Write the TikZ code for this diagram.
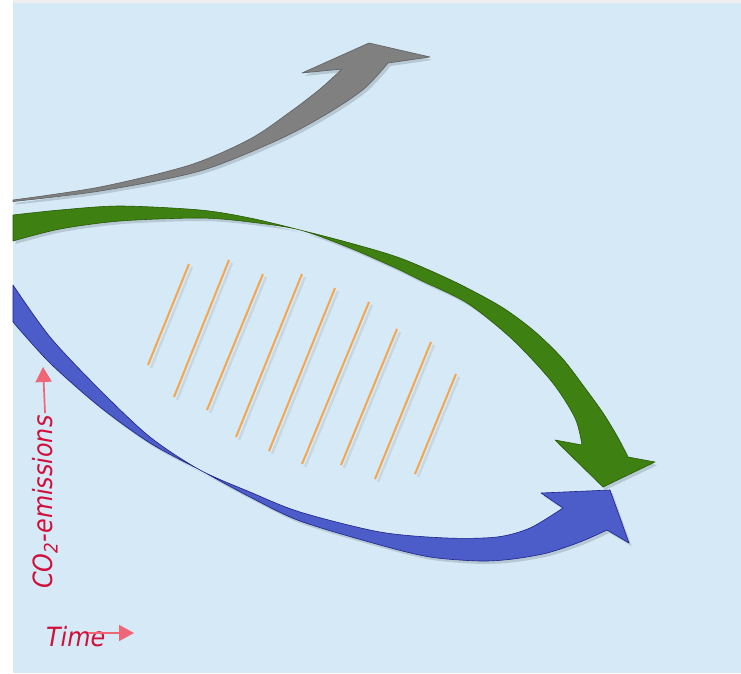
\documentclass[tikz,border=0pt]{standalone}
\usepackage{fontspec}
\setmainfont{DejaVu Sans Condensed}
\usetikzlibrary{shadows,arrows.meta}

\definecolor{panel}{HTML}{D5E9F6}
\definecolor{topstrip}{HTML}{EEEEEE}
\definecolor{grayarrow}{HTML}{808080}
\definecolor{grayedge}{HTML}{5E5E5E}
\definecolor{greenarrow}{HTML}{3E8012}
\definecolor{greenedge}{HTML}{275A06}
\definecolor{bluearrow}{HTML}{4C5CC8}
\definecolor{blueedge}{HTML}{1C2488}
\definecolor{hatchorange}{HTML}{F7A54A}
\definecolor{axispink}{HTML}{EF6676}
\definecolor{labelred}{HTML}{D0103A}

\tikzset{
  band/.style={line width=0.6pt, line join=round,
    drop shadow={shadow xshift=2.5pt, shadow yshift=-3pt, fill=black, opacity=0.14}},
  hatch/.style={draw=hatchorange, line width=2pt},
  hatchshade/.style={draw=black, opacity=0.07, line width=2.6pt},
  axisarrow/.style={draw=axispink, line width=1.7pt,
    -{Triangle[length=15pt,width=16pt]}},
  axislabel/.style={text=labelred, inner sep=0pt,
    font=\fontsize{26.5}{31}\selectfont\itshape},
}

\begin{document}
\begin{tikzpicture}[x=1pt,y=-1pt]
\useasboundingbox (0,0) rectangle (741,673);
\fill[white] (0,0) rectangle (741,673);
\fill[topstrip] (13,0) rectangle (741,3);
\fill[panel] (13,3) rectangle (741,673);

% rising grey arrow
\filldraw[band, fill=grayarrow, draw=grayedge]
  plot[smooth] coordinates {(13,200) (100,187) (190,165) (250,139) (290,112) (320,89) (342,69)}
  -- (302,73) -- (369,43) -- (430,57) -- (388,63)
  -- plot[smooth] coordinates {(388,63) (365,88) (330,112) (280,139) (200,171) (100,191) (13,201.5)}
  -- cycle;

% green arrow bending down
\filldraw[band, fill=greenarrow, draw=greenedge]
  plot[smooth] coordinates {(13,215) (60,210) (120,206) (200,210) (250,218) (300,230)
    (350,243) (400,258) (453,281) (500,306) (533,330) (562,358) (585,388) (603,413) (617,436) (628,457)}
  -- (655,462) -- (603,487) -- (555,440) -- (582,445)
  -- plot[smooth] coordinates {(582,445) (575,418) (552,382) (512,339) (467,303)
    (420,280) (400,270) (350,248) (300,230) (250,222) (200,218) (120,221) (60,229) (13,241)}
  -- cycle;

% blue arrow curving up
\filldraw[band, fill=bluearrow, draw=blueedge]
  plot[smooth] coordinates {(13,285) (50,337) (100,390) (150,437) (200,470) (250,492)
    (300,512) (380,532) (447,538) (497,537) (530,528) (563,508)}
  -- (541,493) -- (610,490) -- (629,543) -- (607,530)
  -- plot[smooth] coordinates {(607,530) (580,542) (547,553) (513,559) (480,561)
    (430,557) (380,545) (300,521) (250,497) (200,470) (150,443) (100,407) (50,363) (13,322)}
  -- cycle;

% hatching between the curves
\foreach \xa/\ya/\xb/\yb in {189/264/148/365, 229/260/174/397, 263/274/207/410,
    302/274/236/437, 335/288/269/451, 369/302/302/464, 397/329/341/465,
    431/342/375/479, 456/374/415/474} {
  \draw[hatchshade] (\xa+3,\ya+3) -- (\xb+3,\yb+3);
  \draw[hatch] (\xa,\ya) -- (\xb,\yb);
}

% axis labels
\node[axislabel, rotate=90, anchor=base west] (co2) at (52.5,589) {CO\textsubscript{2}-emissions};
\coordinate (co2tip) at (43,367);
\draw[axisarrow] (co2.east |- 0,413) -- (co2tip);

\node[axislabel, anchor=base west] (time) at (46,646) {Time};
\coordinate (timetip) at (134,633);
\draw[axisarrow] (88,633) -- (timetip);
\end{tikzpicture}
\end{document}
